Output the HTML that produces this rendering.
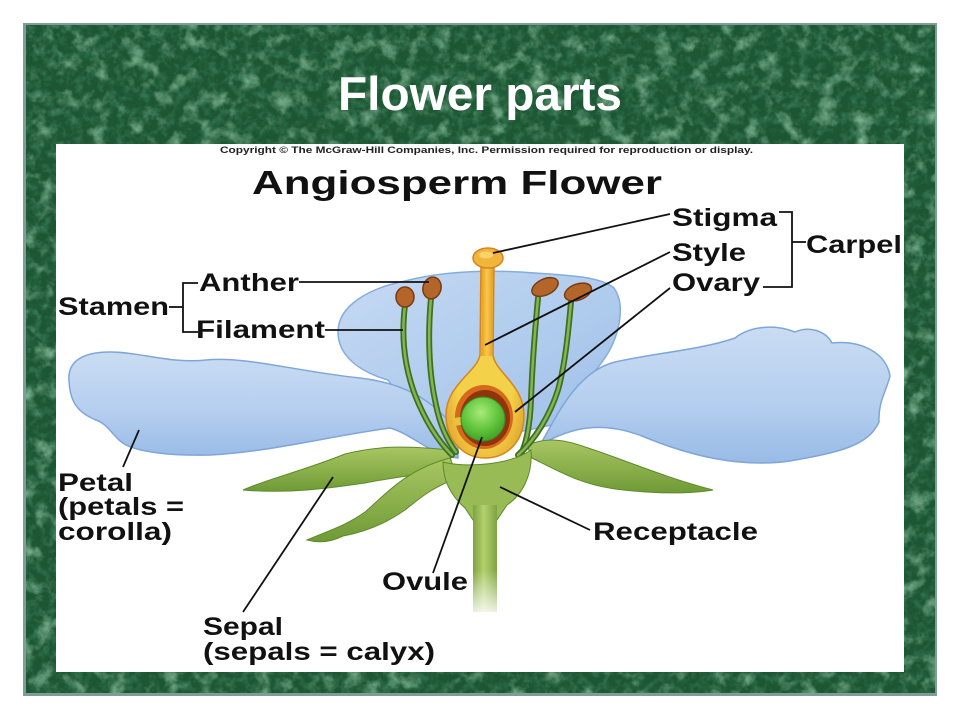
<!DOCTYPE html>
<html>
<head>
<meta charset="utf-8">
<style>
  html,body{margin:0;padding:0;background:#fff;}
  body{width:960px;height:720px;overflow:hidden;}
  svg{display:block;}
  text{font-family:"Liberation Sans",Arial,sans-serif;font-weight:bold;}
</style>
</head>
<body>
<svg width="960" height="720" viewBox="0 0 960 720" xmlns="http://www.w3.org/2000/svg">
  <defs>
    <filter id="marble" x="0" y="0" width="100%" height="100%">
      <feTurbulence type="fractalNoise" baseFrequency="0.055" numOctaves="4" seed="7" result="n"/>
      <feColorMatrix in="n" type="matrix" values="0 0 0 0 0.33  0 0 0 0 0.62  0 0 0 0 0.42  2.0 0 0 0 -1.02"/>
    </filter>
    <filter id="marble2" x="0" y="0" width="100%" height="100%">
      <feTurbulence type="fractalNoise" baseFrequency="0.12" numOctaves="3" seed="2" result="n"/>
      <feColorMatrix in="n" type="matrix" values="0 0 0 0 0.04  0 0 0 0 0.20  0 0 0 0 0.10  2.0 0 0 0 -0.85"/>
    </filter>
    <linearGradient id="petalG" x1="0" y1="0" x2="0" y2="1">
      <stop offset="0" stop-color="#c9dcf3"/>
      <stop offset="0.55" stop-color="#b6cfef"/>
      <stop offset="1" stop-color="#98bbe6"/>
    </linearGradient>
    <linearGradient id="backPetalG" x1="0" y1="0" x2="1" y2="1">
      <stop offset="0" stop-color="#c6daf3"/>
      <stop offset="1" stop-color="#9dbfe8"/>
    </linearGradient>
    <linearGradient id="sepalG" x1="0" y1="0" x2="0" y2="1">
      <stop offset="0" stop-color="#a9c763"/>
      <stop offset="1" stop-color="#6f9a36"/>
    </linearGradient>
    <linearGradient id="stemG" x1="0" y1="0" x2="1" y2="0">
      <stop offset="0" stop-color="#7ea342"/>
      <stop offset="0.45" stop-color="#b4d06e"/>
      <stop offset="1" stop-color="#7ea342"/>
    </linearGradient>
    <linearGradient id="stemFade" x1="0" y1="0" x2="0" y2="1">
      <stop offset="0" stop-color="#fff" stop-opacity="0"/>
      <stop offset="1" stop-color="#fff" stop-opacity="0.9"/>
    </linearGradient>
    <radialGradient id="ovaryG" cx="0.5" cy="0.55" r="0.6">
      <stop offset="0.6" stop-color="#f3d24a"/>
      <stop offset="1" stop-color="#e2a22a"/>
    </radialGradient>
    <linearGradient id="styleG" x1="0" y1="0" x2="1" y2="0">
      <stop offset="0" stop-color="#e79c25"/>
      <stop offset="0.5" stop-color="#f7c94a"/>
      <stop offset="1" stop-color="#e79c25"/>
    </linearGradient>
    <radialGradient id="ovuleG" cx="0.45" cy="0.35" r="0.7">
      <stop offset="0" stop-color="#a6ec78"/>
      <stop offset="0.6" stop-color="#5ec13a"/>
      <stop offset="1" stop-color="#3f9a26"/>
    </radialGradient>
  </defs>

  <!-- frame -->
  <rect x="23" y="23" width="914" height="673" fill="#7f9c96"/>
  <rect x="26" y="25" width="909" height="668" fill="#1d5632"/>
  <rect x="26" y="25" width="909" height="668" filter="url(#marble2)"/>
  <rect x="26" y="25" width="909" height="668" filter="url(#marble)"/>

  <!-- title -->
  <text x="338" y="110" font-size="47" fill="#ffffff" textLength="284" lengthAdjust="spacingAndGlyphs">Flower parts</text>

  <!-- white panel -->
  <rect x="56" y="144" width="848" height="528" fill="#ffffff"/>

  <text x="220" y="153" font-size="9.5" fill="#222" textLength="533" lengthAdjust="spacingAndGlyphs">Copyright © The McGraw-Hill Companies, Inc. Permission required for reproduction or display.</text>
  <text x="252" y="194" font-size="33" fill="#111" textLength="410" lengthAdjust="spacingAndGlyphs">Angiosperm Flower</text>

  <!-- back petal -->
  <path d="M338,332 C338,305 370,288 405,281 C440,272 480,270 520,272 C565,275 600,276 614,288 C626,305 620,338 602,362 C588,382 568,402 552,425 L455,445 C428,425 400,398 388,380 C360,372 338,356 338,332 Z" fill="url(#backPetalG)" stroke="#86acdc" stroke-width="1.5"/>

  <!-- right petal -->
  <path d="M540,445 C555,420 575,372 615,362 C655,353 700,350 735,338 C750,326 775,324 795,332 C808,326 825,330 832,343 C860,340 886,352 890,376 C886,392 878,402 879,422 C868,446 840,452 790,461 C740,468 690,456 642,436 C600,420 570,428 540,445 Z" fill="url(#petalG)" stroke="#7fa6d8" stroke-width="1.5"/>

  <!-- left petal -->
  <path d="M69,381 C67,360 85,352 110,352 C140,352 172,364 206,360 C245,356 300,372 360,378 C402,383 432,398 458,432 L458,458 C432,456 412,434 390,428 C330,436 270,452 210,455 C170,456 140,452 126,445 C113,438 110,425 96,420 C76,412 70,400 69,381 Z" fill="url(#petalG)" stroke="#7fa6d8" stroke-width="1.5"/>

  <!-- sepals -->
  <path d="M243,490 C270,478 300,472 345,454 C380,445 410,446 450,450 L452,470 C420,474 390,478 365,483 C330,488 290,494 243,490 Z" fill="url(#sepalG)" stroke="#5d8a2c" stroke-width="1"/>
  <path d="M307,540 C330,530 345,526 365,512 C385,495 405,470 450,458 L458,478 C430,488 418,500 405,510 C385,524 365,532 343,536 C335,540 322,544 307,540 Z" fill="url(#sepalG)" stroke="#5d8a2c" stroke-width="1"/>
  <path d="M527,445 C545,438 560,438 585,447 C620,458 660,476 713,490 C690,494 655,494 615,489 C580,484 560,472 532,458 Z" fill="url(#sepalG)" stroke="#5d8a2c" stroke-width="1"/>

  <!-- stamens -->
  <g fill="none" stroke-linecap="round">
    <path d="M405,305 C402,330 402,360 415,395 C425,420 437,440 452,455" stroke="#3f6f20" stroke-width="6"/>
    <path d="M405,305 C402,330 402,360 415,395 C425,420 437,440 452,455" stroke="#83b652" stroke-width="2.5"/>
    <path d="M431,298 C428,330 428,370 436,405 C440,425 447,440 456,452" stroke="#3f6f20" stroke-width="6"/>
    <path d="M431,298 C428,330 428,370 436,405 C440,425 447,440 456,452" stroke="#83b652" stroke-width="2.5"/>
    <path d="M538,298 C535,330 532,370 531,400 C530,425 527,440 522,452" stroke="#3f6f20" stroke-width="6"/>
    <path d="M538,298 C535,330 532,370 531,400 C530,425 527,440 522,452" stroke="#83b652" stroke-width="2.5"/>
    <path d="M571,302 C568,335 565,365 558,390 C550,415 535,440 518,455" stroke="#3f6f20" stroke-width="6"/>
    <path d="M571,302 C568,335 565,365 558,390 C550,415 535,440 518,455" stroke="#83b652" stroke-width="2.5"/>
  </g>
  <!-- anthers -->
  <ellipse cx="405" cy="297" rx="9" ry="10" fill="#b4652a" stroke="#7a3a12" stroke-width="1.5"/>
  <ellipse cx="432" cy="288" rx="9" ry="11" fill="#b4652a" stroke="#7a3a12" stroke-width="1.5" transform="rotate(15 432 288)"/>
  <ellipse cx="545" cy="287" rx="14" ry="8" fill="#b4652a" stroke="#7a3a12" stroke-width="1.5" transform="rotate(-25 545 287)"/>
  <ellipse cx="578" cy="292" rx="14" ry="8" fill="#b4652a" stroke="#7a3a12" stroke-width="1.5" transform="rotate(-20 578 292)"/>

  <!-- receptacle -->
  <path d="M443,462 C465,468 510,465 531,450 C533,475 522,495 507,505 L497,520 L473,520 L465,508 C450,495 443,480 443,462 Z" fill="#99bb55" stroke="#5d8a2c" stroke-width="1"/>
  <!-- stem -->
  <rect x="473" y="505" width="24" height="107" fill="url(#stemG)"/>
  <rect x="470" y="570" width="30" height="45" fill="url(#stemFade)"/>

  <!-- pistil -->
  <path d="M481,265 L480,355 C477,372 446,385 446,415 C446,442 465,458 485,458 C507,458 524,442 524,415 C524,385 495,372 493,355 L494,265 Z" fill="url(#ovaryG)" stroke="#d5861c" stroke-width="1.5"/>
  <path d="M482,265 L481,356 L492,356 L493,265 Z" fill="url(#styleG)"/>
  <ellipse cx="488" cy="258" rx="15" ry="10" fill="#f2b53c" stroke="#d4861c" stroke-width="1.5"/>
  <ellipse cx="486" cy="255" rx="7" ry="3.5" fill="#f8d26a"/>
  <!-- ovary cavity -->
  <ellipse cx="484" cy="417" rx="29" ry="32" fill="#d46a1a"/>
  <ellipse cx="485" cy="418" rx="25" ry="28" fill="#8f340c"/>
  <!-- placenta stub -->
  <path d="M455,418 L466,416 L466,424 L455,426 Z" fill="#e9c23e"/>
  <!-- ovule -->
  <circle cx="483" cy="419" r="22" fill="url(#ovuleG)" stroke="#3b8a22" stroke-width="1"/>

  <!-- connector lines -->
  <g stroke="#111" stroke-width="1.8" fill="none">
    <line x1="493" y1="253" x2="670" y2="214"/>
    <line x1="485" y1="345" x2="670" y2="252"/>
    <line x1="515" y1="412" x2="670" y2="288"/>
    <line x1="299" y1="282" x2="429" y2="282"/>
    <line x1="325" y1="330" x2="403" y2="330"/>
    <line x1="139" y1="430" x2="123" y2="467"/>
    <line x1="333" y1="477" x2="243" y2="612"/>
    <line x1="482" y1="437" x2="433" y2="573"/>
    <line x1="500" y1="487" x2="590" y2="530"/>
    <!-- stamen bracket -->
    <polyline points="198,283 183,283 183,332 198,332"/>
    <line x1="169" y1="307" x2="183" y2="307"/>
    <!-- carpel bracket -->
    <polyline points="779,212 792,212 792,287 763,287"/>
    <line x1="792" y1="242" x2="806" y2="242"/>
  </g>

  <!-- labels -->
  <g fill="#111" font-size="25">
    <text x="672" y="226" textLength="105" lengthAdjust="spacingAndGlyphs">Stigma</text>
    <text x="672" y="261" textLength="74" lengthAdjust="spacingAndGlyphs">Style</text>
    <text x="672" y="291" textLength="88" lengthAdjust="spacingAndGlyphs">Ovary</text>
    <text x="806" y="253" textLength="96" lengthAdjust="spacingAndGlyphs">Carpel</text>
    <text x="199" y="291" textLength="100" lengthAdjust="spacingAndGlyphs">Anther</text>
    <text x="58" y="315" textLength="111" lengthAdjust="spacingAndGlyphs">Stamen</text>
    <text x="196" y="338" textLength="129" lengthAdjust="spacingAndGlyphs">Filament</text>
    <text x="58" y="491" textLength="75" lengthAdjust="spacingAndGlyphs">Petal</text>
    <text x="58" y="515" textLength="126" lengthAdjust="spacingAndGlyphs">(petals =</text>
    <text x="58" y="540" textLength="114" lengthAdjust="spacingAndGlyphs">corolla)</text>
    <text x="203" y="635" textLength="80" lengthAdjust="spacingAndGlyphs">Sepal</text>
    <text x="203" y="660" textLength="232" lengthAdjust="spacingAndGlyphs">(sepals = calyx)</text>
    <text x="382" y="590" textLength="86" lengthAdjust="spacingAndGlyphs">Ovule</text>
    <text x="593" y="540" textLength="165" lengthAdjust="spacingAndGlyphs">Receptacle</text>
  </g>
</svg>
</body>
</html>
